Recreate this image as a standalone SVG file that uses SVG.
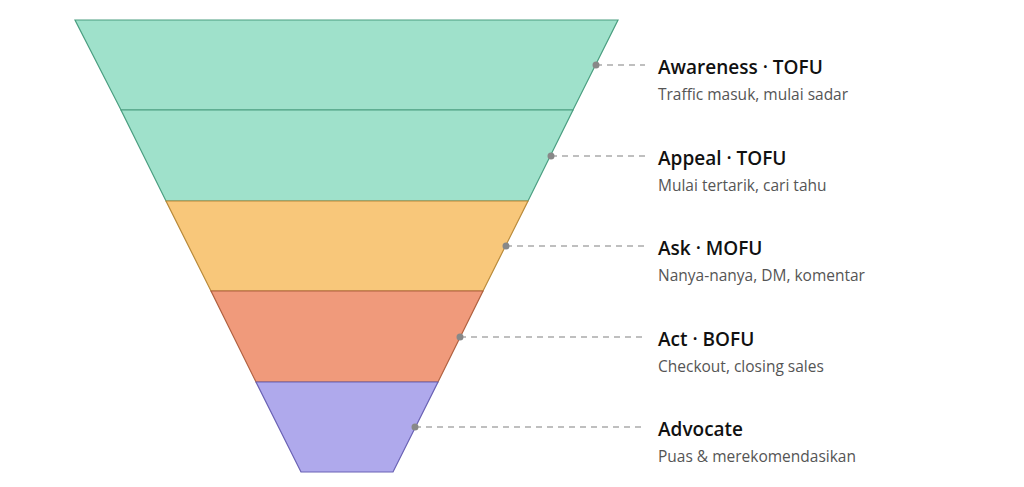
<svg xmlns="http://www.w3.org/2000/svg" width="1024" height="487" viewBox="0 0 1024 487">
<style>
.t{font-family:"Segoe UI","Open Sans","Noto Sans",sans-serif;font-size:19px;font-weight:600;fill:#111}
.s{font-family:"Segoe UI","Open Sans","Noto Sans",sans-serif;font-size:15.5px;fill:#555}
.l{stroke:#aaa;stroke-width:1.3;stroke-dasharray:6 5;fill:none}
.d{fill:#888}
</style>
<rect width="1024" height="487" fill="#fff"/>
<g id="awareness"><polygon points="75,20 618,20 573,110 121,110" fill="#9fe1cb" stroke="#4a9e80" stroke-width="1.2"/></g>
<g id="appeal"><polygon points="121,110 573,110 528,201 166,201" fill="#9fe1cb" stroke="#4a9e80" stroke-width="1.2"/></g>
<g id="ask"><polygon points="166,201 528,201 483,291 211,291" fill="#f8c77a" stroke="#b98a3a" stroke-width="1.2"/></g>
<g id="act"><polygon points="211,291 483,291 438,382 256,382" fill="#f09a7b" stroke="#b0603f" stroke-width="1.2"/></g>
<g id="advocate"><polygon points="256,382 438,382 393,472 301,472" fill="#afa9ec" stroke="#6a62b5" stroke-width="1.2"/></g>
<g id="connectors">
<path class="l" d="M596,65H645M551,156H645M506,246H645M460,337H645M415,427H645"/>
<circle class="d" cx="596" cy="65" r="3.5"/><circle class="d" cx="551" cy="156" r="3.5"/><circle class="d" cx="506" cy="246" r="3.5"/><circle class="d" cx="460" cy="337" r="3.5"/><circle class="d" cx="415" cy="427" r="3.5"/>
</g>
<g id="labels">
<text class="t" x="658" y="74">Awareness · TOFU</text><text class="s" x="658" y="100">Traffic masuk, mulai sadar</text>
<text class="t" x="658" y="165">Appeal · TOFU</text><text class="s" x="658" y="191">Mulai tertarik, cari tahu</text>
<text class="t" x="658" y="255">Ask · MOFU</text><text class="s" x="658" y="281">Nanya-nanya, DM, komentar</text>
<text class="t" x="658" y="346">Act · BOFU</text><text class="s" x="658" y="372">Checkout, closing sales</text>
<text class="t" x="658" y="436">Advocate</text><text class="s" x="658" y="462">Puas &amp; merekomendasikan</text>
</g>
</svg>
